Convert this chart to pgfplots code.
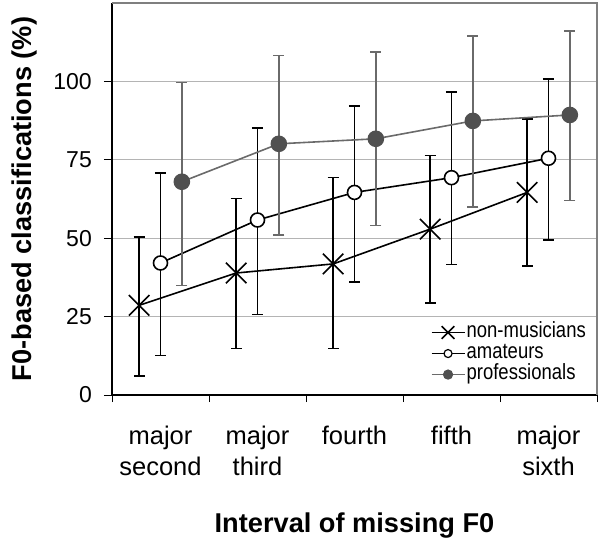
\documentclass[border=0pt]{standalone}
\usepackage{pgfplots}
\pgfplotsset{compat=1.18}
\usepackage{fontspec}
\setmainfont{Liberation Sans}
\newfontfamily\legendfont[FakeStretch=0.84]{Liberation Sans}
\definecolor{progray}{HTML}{6A6A6A}
\definecolor{profill}{HTML}{505050}
\definecolor{gridgray}{HTML}{B4B4B4}
\definecolor{framegray}{HTML}{7F7F7F}
\begin{document}
\begin{tikzpicture}
\path[use as bounding box] (-112pt,-147pt) rectangle (490pt,395pt);
\begin{axis}[
  at={(0pt,0pt)}, anchor=south west,
  scale only axis, width=485pt, height=392pt,
  xmin=0.5, xmax=5.5, ymin=0, ymax=125,
  clip=false,
  axis lines*=left,
  axis line style={black, line width=1.2pt},
  xtick={1,2,3,4,5},
  xticklabels={{\strut major\\second},{\strut major\\third},{\strut fourth},{\strut fifth},{\strut major\\sixth}},
  minor xtick={0.5,1.5,2.5,3.5,4.5,5.5},
  every major x tick/.style={draw=none},
  ytick={0,25,50,75,100},
  tick align=outside,
  major tick length=8pt, minor tick length=7pt,
  tick style={black, line width=0.8pt},
  ymajorgrids, grid style={gridgray, line width=0.8pt},
  /pgf/number format/assume math mode=true,
  x tick label style={font=\fontsize{25.5}{31}\selectfont, align=center, inner sep=0pt, yshift=-20pt},
  y tick label style={font=\fontsize{23}{28}\selectfont, inner sep=0pt, xshift=-12pt},
  every axis y label/.style={at={(axis description cs:-0.165,0.5)}, rotate=90, anchor=base},
  every axis x label/.style={at={(axis description cs:0.5,-0.352)}, anchor=base},
  label style={font=\bfseries\fontsize{27.2}{30}\selectfont},
  xlabel={Interval of missing F0},
  ylabel={F0-based classifications (\%)},
  legend style={draw=none, fill=none, at={(1,0)}, anchor=south east, xshift=-9.5pt, yshift=9pt,
    inner sep=0pt, font=\legendfont\fontsize{22}{22}\selectfont,
    nodes={inner sep=1.5pt, text height=15pt, text depth=4.5pt}, row sep=-1.5pt},
  legend cell align=left,
  legend image code/.code={\draw[mark repeat=2, mark phase=2, #1, line width=1.2pt] plot coordinates {(0pt,0pt) (16.5pt,0pt) (33pt,0pt)};},
]
\addplot[black, line width=1.6pt, mark=x, mark size=14.5pt, mark options={line width=1.6pt},
  legend image post style={mark size=9pt},
  error bars/.cd, y dir=both, y explicit,
  error bar style={black, line width=1.6pt},
  error mark options={rotate=90, black, line width=1.6pt, mark size=5.5pt}]
coordinates {
  (0.78,28.6) += (0,21.7) -= (0,22.5)
  (1.78,38.9) += (0,23.7) -= (0,24.1)
  (2.78,41.8) += (0,27.5) -= (0,27.0)
  (3.78,52.9) += (0,23.5) -= (0,23.5)
  (4.78,64.6) += (0,23.5) -= (0,23.5)
};
\addlegendentry{non-musicians}
\addplot[black, line width=1.6pt, mark=*, mark size=7pt, mark options={fill=white, line width=1.6pt},
  legend image post style={mark size=4pt, mark options={fill=white, line width=1.2pt}},
  error bars/.cd, y dir=both, y explicit,
  error bar style={black, line width=1.6pt},
  error mark options={rotate=90, black, line width=1.6pt, mark size=5.5pt}]
coordinates {
  (1,42.1) += (0,28.6) -= (0,29.5)
  (2,55.8) += (0,29.3) -= (0,30.1)
  (3,64.6) += (0,27.5) -= (0,28.6)
  (4,69.3) += (0,27.4) -= (0,27.7)
  (5,75.5) += (0,25.2) -= (0,26.0)
};
\addlegendentry{amateurs}
\addplot[progray, line width=1.6pt, mark=*, mark size=7.5pt, mark options={fill=profill, draw=profill},
  legend image post style={mark size=4.5pt},
  error bars/.cd, y dir=both, y explicit,
  error bar style={progray, line width=1.6pt},
  error mark options={rotate=90, progray, line width=1.6pt, mark size=5.5pt}]
coordinates {
  (1.22,68.0) += (0,31.7) -= (0,33.1)
  (2.22,80.1) += (0,28.2) -= (0,29.1)
  (3.22,81.7) += (0,27.7) -= (0,27.7)
  (4.22,87.4) += (0,27.0) -= (0,27.4)
  (5.22,89.3) += (0,26.7) -= (0,27.3)
};
\addlegendentry{professionals}
\draw[framegray, line width=1.5pt] (rel axis cs:0,1) -- (rel axis cs:1,1) -- (rel axis cs:1,0);
\end{axis}
\end{tikzpicture}
\end{document}
